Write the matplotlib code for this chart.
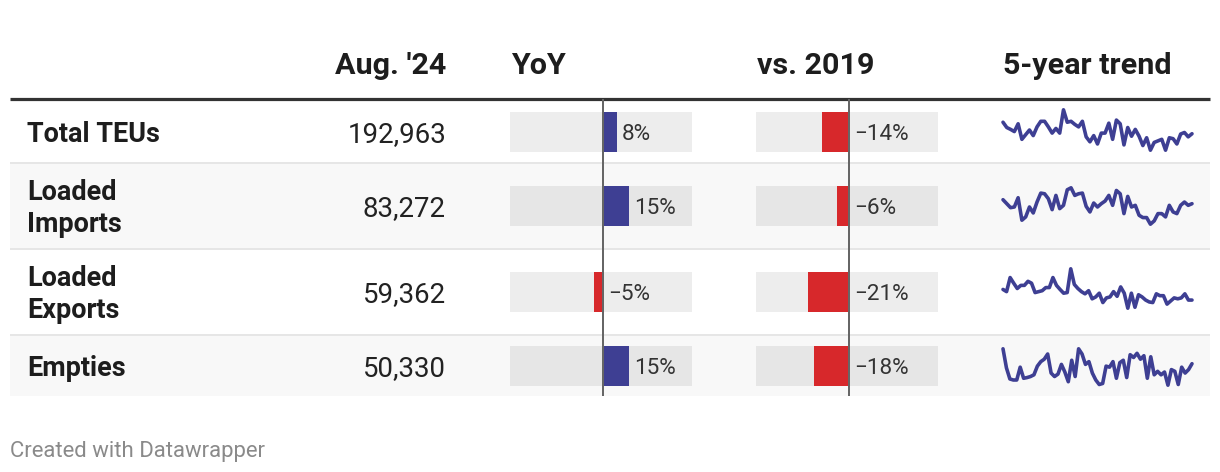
import matplotlib
matplotlib.use("Agg")
import matplotlib.pyplot as plt
from matplotlib.patches import Rectangle

# ---------------- data ----------------
row_labels = ["Total TEUs", "Loaded\nImports", "Loaded\nExports", "Empties"]
aug24 = [192963, 83272, 59362, 50330]
yoy = [8, 15, -5, 15]
vs2019 = [-14, -6, -21, -18]
headers = ["Aug. '24", "YoY", "vs. 2019", "5-year trend"]
footer = "Created with Datawrapper"

# 5-year monthly trend (relative level read from the sparklines)
trend_total = [95, 78, 72, 65, 90, 40, 55, 70, 52, 80, 98, 98, 80, 60, 75, 60, 135, 95, 98, 88,
               80, 98, 48, 32, 52, 25, 60, 60, 92, 40, 102, 90, 22, 78, 50, 72, 50, 20, 45, 5,
               30, 35, 40, 5, 45, 42, 25, 57, 62, 48, 58]
trend_imports = [102, 90, 78, 80, 108, 40, 50, 80, 62, 95, 122, 120, 105, 72, 115, 75, 85, 132, 138, 115,
                 120, 122, 82, 65, 92, 80, 90, 98, 115, 85, 130, 120, 60, 112, 80, 85, 55, 48, 48, 28,
                 38, 60, 60, 50, 85, 65, 60, 85, 95, 85, 90]
trend_exports = [72, 65, 110, 92, 75, 85, 85, 98, 92, 62, 65, 68, 78, 78, 110, 85, 72, 60, 62, 138,
                 88, 75, 65, 58, 68, 42, 48, 60, 30, 45, 48, 65, 50, 80, 60, 12, 60, 15, 55, 48,
                 38, 32, 30, 58, 52, 52, 25, 35, 45, 42, 45, 58, 38, 38]
trend_empties = [135, 80, 48, 45, 45, 82, 50, 52, 55, 60, 85, 98, 105, 120, 65, 55, 62, 90, 68, 40,
                 102, 55, 135, 120, 90, 98, 65, 45, 32, 35, 85, 82, 98, 50, 95, 102, 52, 118, 110, 122,
                 105, 115, 50, 112, 60, 70, 60, 68, 30, 75, 70, 32, 82, 65, 75, 92]
trends = [trend_total, trend_imports, trend_exports, trend_empties]

# ---------------- style / layout ----------------
W, H, DPI = 1220, 472, 100
BLUE = "#3e3f93"
RED = "#d7282b"
TXT = "#1d1d1d"
FONT = ["Roboto", "DejaVu Sans"]
plt.rcParams["font.family"] = FONT
plt.rcParams["axes.unicode_minus"] = True

def pt(px):
    return px * 72.0 / DPI

row_top = [100, 163, 249, 335]
row_bot = [162, 249, 335, 396]
centers = [132, 206, 292, 366]
spark_y = [(108, 152), (186, 226), (267, 310), (347, 387)]

fig = plt.figure(figsize=(W / DPI, H / DPI), dpi=DPI)
fig.patch.set_facecolor("white")
ax = fig.add_axes([0, 0, 1, 1])
ax.set_xlim(0, W)
ax.set_ylim(H, 0)
ax.axis("off")

# row backgrounds
for i in (1, 3):
    ax.add_patch(Rectangle((10, row_top[i]), 1200, row_bot[i] - row_top[i],
                           facecolor="#f8f8f8", edgecolor="none", zorder=0))
# separators
ax.hlines([162.5, 249, 335], 10, 1210, color="#e6e6e6", lw=pt(2), zorder=1)
ax.hlines(98.5, 10, 1210, color="#333333", lw=pt(3.2), zorder=3)

# headers
hsize = pt(30.5)
ax.text(446, 74, headers[0], ha="right", va="baseline", fontsize=hsize, fontweight="bold", color=TXT)
ax.text(511, 74, headers[1], ha="left", va="baseline", fontsize=hsize, fontweight="bold", color=TXT)
ax.text(757, 74, headers[2], ha="left", va="baseline", fontsize=hsize, fontweight="bold", color=TXT)
ax.text(1003, 74, headers[3], ha="left", va="baseline", fontsize=hsize, fontweight="bold", color=TXT)

# row labels and numbers
lsize = pt(27)
for lab, val, c in zip(row_labels, aug24, centers):
    lines = lab.split("\n")
    if len(lines) == 1:
        ax.text(27, c + 10, lines[0], ha="left", va="baseline", fontsize=lsize,
                fontweight="bold", color=TXT)
    else:
        ax.text(27, c - 6, lines[0], ha="left", va="baseline", fontsize=lsize,
                fontweight="bold", color=TXT)
        ax.text(27, c + 26, lines[1], ha="left", va="baseline", fontsize=lsize,
                fontweight="bold", color=TXT)
    ax.text(446, c + 10, f"{val:,}", ha="right", va="baseline", fontsize=pt(27.6), color="#222222")

ax.text(10, 457, footer, ha="left", va="baseline", fontsize=pt(22.2), color="#8a8a8a")

# bar columns
def bar_column(x0, x1, xzero, px_per_unit, values):
    dmin = -(xzero - x0) / px_per_unit
    dmax = (x1 - xzero) / px_per_unit
    a = fig.add_axes([x0 / W, 0, (x1 - x0) / W, 1])
    a.set_xlim(dmin, dmax)
    a.set_ylim(H, 0)
    a.axis("off")
    a.patch.set_alpha(0)
    a.barh(centers, [dmax - dmin] * len(centers), left=dmin, height=40,
           color=(0, 0, 0, 0.07), zorder=1)
    a.barh(centers, values, height=40, color=[BLUE if v > 0 else RED for v in values], zorder=2)
    a.vlines(0, 99, 396, color="#666666", lw=pt(2), zorder=3, clip_on=False)
    for v, c in zip(values, centers):
        s = f"{v}%".replace("-", "\u2212")
        a.annotate(s, xy=(max(v, 0), c + 8), xytext=(5, 0), textcoords="offset pixels",
                   ha="left", va="baseline", fontsize=pt(22.5), color="#333333",
                   annotation_clip=False, zorder=4)
    return a

bar_column(510, 692, 603, 1.75, yoy)
bar_column(756, 938, 849, 1.93, vs2019)

# sparklines
for data, (y0, y1) in zip(trends, spark_y):
    y0 += 1.8
    y1 -= 1.8
    s = fig.add_axes([1003 / W, 1 - y1 / H, (1192 - 1003) / W, (y1 - y0) / H])
    s.plot(range(len(data)), data, color=BLUE, lw=pt(3.6), solid_joinstyle="round",
           solid_capstyle="round", clip_on=False)
    s.set_xlim(0, len(data) - 1)
    s.set_ylim(min(data), max(data))
    s.axis("off")
    s.patch.set_alpha(0)

fig.savefig("out.png", dpi=DPI, facecolor="white")
